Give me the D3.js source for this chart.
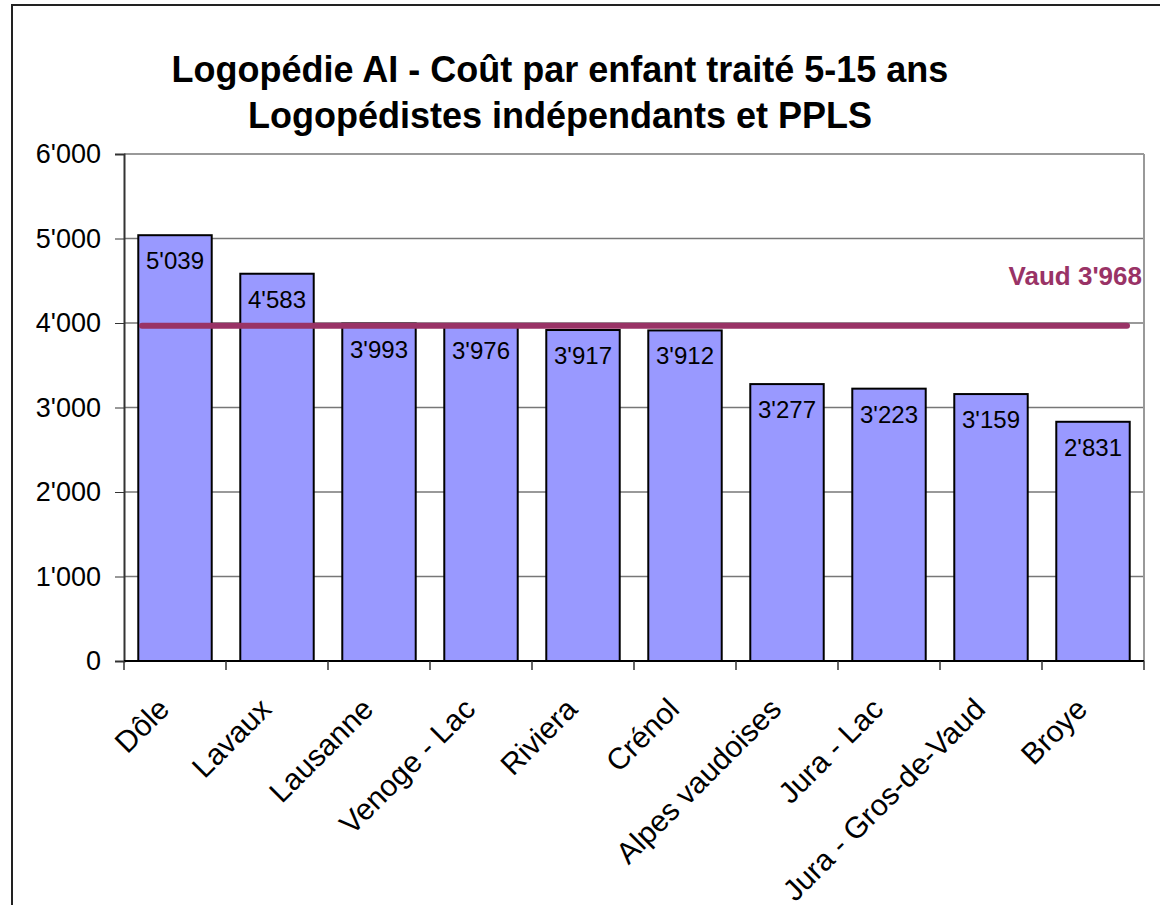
<!DOCTYPE html>
<html>
<head>
<meta charset="utf-8">
<script src="https://cdn.jsdelivr.net/npm/d3@7"></script>
<style>
  body { margin: 0; background: #fff; }
  text { font-family: "Liberation Sans", Arial, sans-serif; }
</style>
</head>
<body>
<script>
// data
var regions = ['Dôle', 'Lavaux', 'Lausanne', 'Venoge - Lac', 'Riviera', 'Crénol',
  'Alpes vaudoises', 'Jura - Lac', 'Jura - Gros-de-Vaud', 'Broye'];
var costs = [5039, 4583, 3993, 3976, 3917, 3912, 3277, 3223, 3159, 2831];
var vaudMean = 3968;
var yTicks = [0, 1000, 2000, 3000, 4000, 5000, 6000];
var titleLines = ['Logopédie AI - Coût par enfant traité 5-15 ans', 'Logopédistes indépendants et PPLS'];

var W = 1160, H = 905;
var plot = { left: 124, right: 1144, top: 154, bottom: 661 };

// swiss thousands separator: 5'039
var fmt = function(v) {
  var s = String(v);
  return s.length > 3 ? s.slice(0, s.length - 3) + "'" + s.slice(-3) : s;
};

var svg = d3.select('body').append('svg')
  .attr('width', W)
  .attr('height', H);

svg.append('rect').attr('width', W).attr('height', H).attr('fill', '#fff');

// outer chart frame (runs off the right and bottom)
svg.append('rect')
  .attr('x', 12).attr('y', 5)
  .attr('width', W + 20).attr('height', H + 20)
  .attr('fill', 'none')
  .attr('stroke', '#222')
  .attr('stroke-width', 2);

// title
svg.append('g').selectAll('text')
  .data(titleLines)
  .enter().append('text')
  .attr('x', 560)
  .attr('y', function(d, i) { return 82 + i * 46; })
  .attr('text-anchor', 'middle')
  .style('font-size', '36px')
  .style('font-weight', 'bold')
  .text(function(d) { return d; });

var x = d3.scaleBand()
  .domain(regions)
  .range([plot.left, plot.right])
  .paddingInner(0.28)
  .paddingOuter(0.14);

var y = d3.scaleLinear()
  .domain([0, 6000])
  .range([plot.bottom, plot.top]);

// gridlines
svg.append('g').selectAll('line')
  .data(yTicks.slice(1))
  .enter().append('line')
  .attr('x1', plot.left).attr('x2', plot.right)
  .attr('y1', function(d) { return y(d); })
  .attr('y2', function(d) { return y(d); })
  .attr('stroke', '#777')
  .attr('stroke-width', 1.5);

// plot border right side
svg.append('line')
  .attr('x1', plot.right).attr('x2', plot.right)
  .attr('y1', plot.top).attr('y2', plot.bottom)
  .attr('stroke', '#999').attr('stroke-width', 2);

// y axis
var yAxis = svg.append('g')
  .attr('transform', 'translate(' + plot.left + ',0)')
  .call(d3.axisLeft(y).tickValues(yTicks).tickFormat(fmt).tickSize(9).tickPadding(14));
yAxis.select('.domain').attr('stroke', '#333').attr('stroke-width', 2);
yAxis.selectAll('.tick line').attr('stroke', '#333');
yAxis.selectAll('text')
  .style('font-size', '27px')
  .attr('fill', '#000')
  .style('font-family', '"Liberation Sans", Arial, sans-serif');

// bars
var bars = svg.append('g').selectAll('rect')
  .data(costs)
  .enter().append('rect')
  .attr('x', function(d, i) { return x(regions[i]); })
  .attr('y', function(d) { return y(d); })
  .attr('width', x.bandwidth())
  .attr('height', function(d) { return y(0) - y(d); })
  .attr('fill', '#9999FF')
  .attr('stroke', '#000')
  .attr('stroke-width', 2);

// bar value labels
svg.append('g').selectAll('text')
  .data(costs)
  .enter().append('text')
  .attr('x', function(d, i) { return x(regions[i]) + x.bandwidth() / 2; })
  .attr('y', function(d) { return y(d) + 34; })
  .attr('text-anchor', 'middle')
  .style('font-size', '24px')
  .text(fmt);

// x axis, ticks at category boundaries
var xg = svg.append('g').attr('transform', 'translate(0,' + plot.bottom + ')');
xg.append('line')
  .attr('x1', plot.left).attr('x2', plot.right)
  .attr('stroke', '#000').attr('stroke-width', 2);
xg.selectAll('line.tk')
  .data(d3.range(regions.length + 1))
  .enter().append('line')
  .attr('class', 'tk')
  .attr('x1', function(i) { return plot.left + i * x.step(); })
  .attr('x2', function(i) { return plot.left + i * x.step(); })
  .attr('y1', 0).attr('y2', 9)
  .attr('stroke', '#333').attr('stroke-width', 1.5);
xg.selectAll('text')
  .data(regions)
  .enter().append('text')
  .attr('transform', function(d) {
    return 'translate(' + (x(d) + x.bandwidth() / 2 - 4) + ',' + 50 + ') rotate(-45)';
  })
  .attr('text-anchor', 'end')
  .style('font-size', '30px')
  .text(function(d) { return d; });

// Vaud mean line
svg.append('line')
  .attr('x1', 142).attr('x2', 1127)
  .attr('y1', y(vaudMean)).attr('y2', y(vaudMean))
  .attr('stroke', '#993366')
  .attr('stroke-width', 6)
  .attr('stroke-linecap', 'round');

svg.append('text')
  .attr('x', 1142)
  .attr('y', 285)
  .attr('text-anchor', 'end')
  .attr('fill', '#993366')
  .style('font-size', '26px')
  .style('font-weight', 'bold')
  .text('Vaud ' + fmt(vaudMean));
</script>
</body>
</html>
